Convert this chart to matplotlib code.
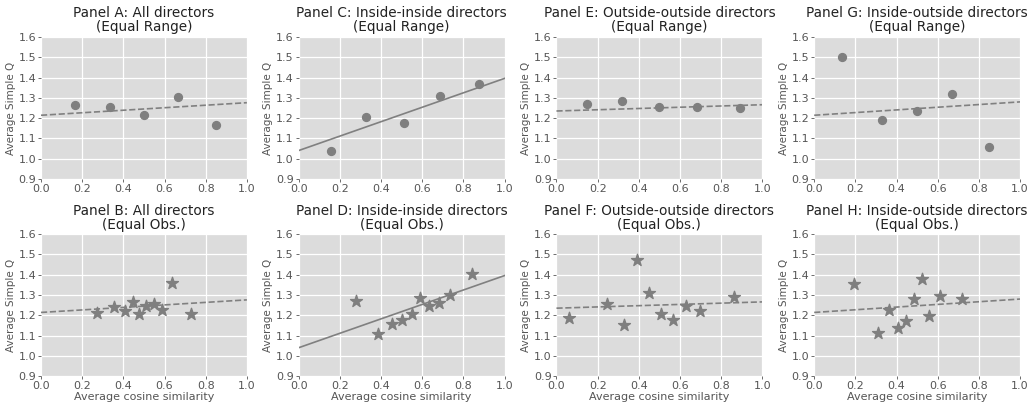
import matplotlib.pyplot as plt

# panel titles
titles = [
    "Panel A: All directors\n(Equal Range)",
    "Panel C: Inside-inside directors\n(Equal Range)",
    "Panel E: Outside-outside directors\n(Equal Range)",
    "Panel G: Inside-outside directors\n(Equal Range)",
    "Panel B: All directors\n(Equal Obs.)",
    "Panel D: Inside-inside directors\n(Equal Obs.)",
    "Panel F: Outside-outside directors\n(Equal Obs.)",
    "Panel H: Inside-outside directors\n(Equal Obs.)",
]

# equal-range bins (top row)
a_x = [0.167, 0.333, 0.502, 0.667, 0.848]
a_y = [1.267, 1.257, 1.215, 1.305, 1.166]
c_x = [0.157, 0.326, 0.510, 0.688, 0.875]
c_y = [1.039, 1.207, 1.175, 1.307, 1.368]
e_x = [0.150, 0.317, 0.500, 0.684, 0.892]
e_y = [1.272, 1.284, 1.257, 1.253, 1.249]
g_x = [0.137, 0.327, 0.497, 0.669, 0.850]
g_y = [1.502, 1.190, 1.234, 1.318, 1.056]

# equal-observation bins (bottom row)
b_x = [0.274, 0.356, 0.406, 0.448, 0.477, 0.510, 0.551, 0.587, 0.636, 0.729]
b_y = [1.213, 1.241, 1.220, 1.264, 1.205, 1.246, 1.254, 1.225, 1.361, 1.208]
d_x = [0.276, 0.387, 0.454, 0.504, 0.549, 0.589, 0.631, 0.681, 0.734, 0.841]
d_y = [1.270, 1.110, 1.159, 1.175, 1.205, 1.287, 1.248, 1.261, 1.300, 1.403]
f_x = [0.061, 0.244, 0.329, 0.393, 0.448, 0.509, 0.565, 0.628, 0.698, 0.864]
f_y = [1.189, 1.256, 1.152, 1.475, 1.310, 1.205, 1.179, 1.244, 1.220, 1.289]
h_x = [0.193, 0.311, 0.364, 0.408, 0.448, 0.485, 0.522, 0.559, 0.612, 0.719]
h_y = [1.356, 1.111, 1.228, 1.139, 1.170, 1.280, 1.379, 1.198, 1.293, 1.279]

# fitted lines: intercept, slope (same fit for both rows of a column)
fit_intercept = [1.214, 1.040, 1.235, 1.214]
fit_slope = [0.062, 0.356, 0.031, 0.066]
fit_solid = [False, True, False, False]

xs = [a_x, c_x, e_x, g_x, b_x, d_x, f_x, h_x]
ys = [a_y, c_y, e_y, g_y, b_y, d_y, f_y, h_y]

x_ticks = [0.0, 0.2, 0.4, 0.6, 0.8, 1.0]
y_ticks = [0.9, 1.0, 1.1, 1.2, 1.3, 1.4, 1.5, 1.6]

fig, axes = plt.subplots(2, 4, figsize=(10.36, 4.07), dpi=100)
fig.subplots_adjust(left=0.0396, right=0.9846, top=0.909, bottom=0.076,
                    wspace=0.252, hspace=0.39)

for i, ax in enumerate(axes.flat):
    col = i % 4
    ax.set_facecolor("#dcdcdc")
    for s in ax.spines.values():
        s.set_visible(False)
    ax.grid(True, color="white", linewidth=0.9)
    ax.set_axisbelow(True)

    line_x = [0.0, 1.0]
    line_y = [fit_intercept[col] + fit_slope[col] * v for v in line_x]
    ax.plot(line_x, line_y, color="#808080", linewidth=1.2,
            linestyle="-" if fit_solid[col] else "--")

    if i < 4:
        ax.scatter(xs[i], ys[i], s=32, color="#7f7f7f", zorder=3)
    else:
        ax.scatter(xs[i], ys[i], s=80, marker="*", color="#7f7f7f", zorder=3)
        ax.set_xlabel("Average cosine similarity", fontsize=8, color="#555555",
                      labelpad=1)

    ax.set_xlim(0, 1)
    ax.set_ylim(0.9, 1.6)
    ax.set_xticks(x_ticks)
    ax.set_yticks(y_ticks)
    ax.tick_params(labelsize=8, colors="#555555", length=2.5, width=0.6, pad=1)
    ax.set_ylabel("Average Simple Q", fontsize=7.5, color="#555555", labelpad=2)
    ax.set_title(titles[i], fontsize=9.8, color="#222222", pad=4,
                 linespacing=1.0)

fig.savefig("out.png", dpi=100)
